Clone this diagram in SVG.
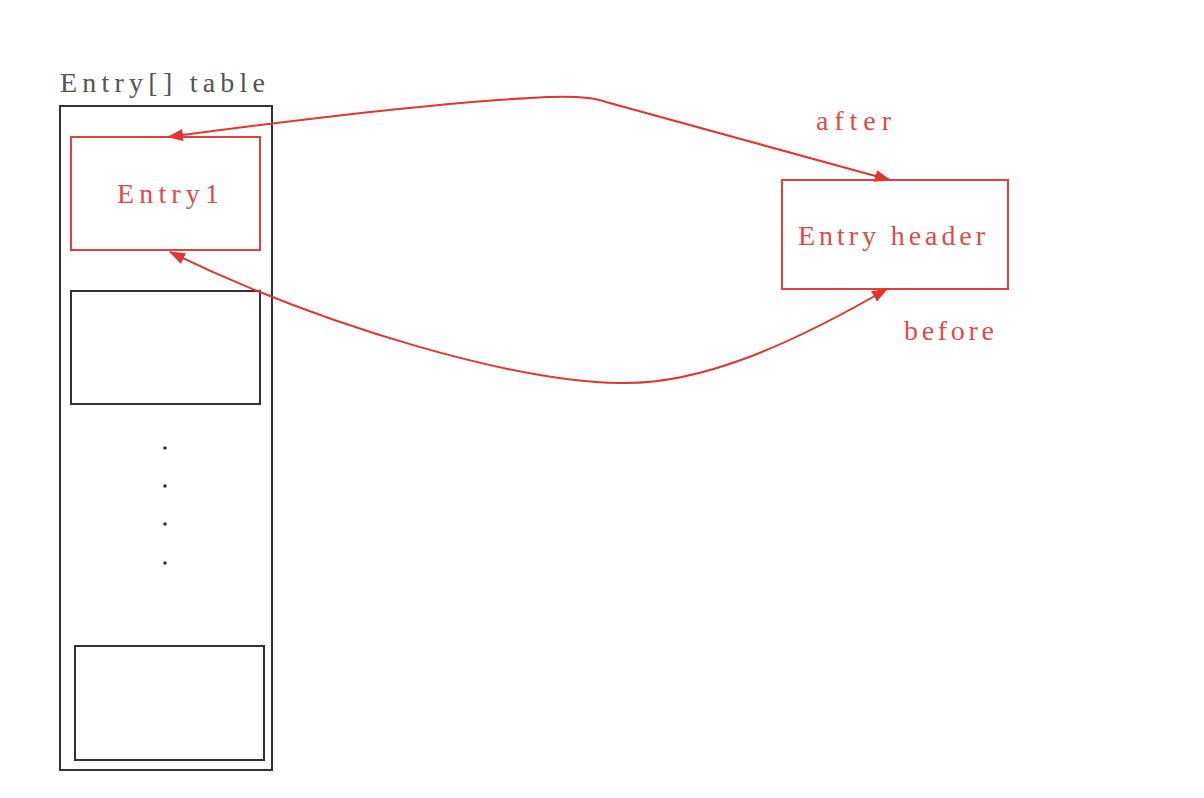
<svg xmlns="http://www.w3.org/2000/svg" width="1204" height="798" viewBox="0 0 1204 798">
<style>
  .lbl { font-family: "Liberation Serif", "DejaVu Serif", serif; font-size: 28px; }
  .red { fill: #dc4b4b; }
  .gray { fill: #555555; }
  .rbox { fill: none; stroke: #e2403c; stroke-width: 2; }
  .kbox { fill: none; stroke: #333333; stroke-width: 2; }
  .conn { fill: none; stroke: #e2352f; stroke-width: 2; }
  .dot { fill: #333333; }
</style>
<defs>
  <marker id="arr" viewBox="0 0 16 12" refX="15" refY="6" markerWidth="16" markerHeight="12" markerUnits="userSpaceOnUse" orient="auto">
    <path d="M0,0 L16,6 L0,12 Z" fill="#e2352f"/>
  </marker>
  <marker id="arrStart" viewBox="0 0 16 12" refX="15" refY="6" markerWidth="16" markerHeight="12" markerUnits="userSpaceOnUse" orient="auto-start-reverse">
    <path d="M0,0 L16,6 L0,12 Z" fill="#e2352f"/>
  </marker>
</defs>
<rect width="1204" height="798" fill="#ffffff"/>

<g id="table">
  <text class="lbl gray" x="60" y="92" textLength="205" lengthAdjust="spacing">Entry[] table</text>
  <rect class="kbox" x="60" y="106" width="212" height="664" stroke="#555555"/>
</g>

<g id="entry1">
  <rect class="rbox" x="71" y="137" width="189" height="113"/>
  <text class="lbl red" x="117" y="203" textLength="102" lengthAdjust="spacing">Entry1</text>
</g>

<g id="slot2">
  <rect class="kbox" x="71" y="291" width="189" height="113"/>
</g>

<g id="ellipsis">
  <circle class="dot" cx="165" cy="448" r="1.8"/>
  <circle class="dot" cx="165" cy="486" r="1.8"/>
  <circle class="dot" cx="165" cy="524" r="1.8"/>
  <circle class="dot" cx="165" cy="563" r="1.8"/>
</g>

<g id="slotN">
  <rect class="kbox" x="75" y="646" width="189" height="114"/>
</g>

<g id="header">
  <rect class="rbox" x="782" y="180" width="226" height="109"/>
  <text class="lbl red" x="798" y="245" textLength="187" lengthAdjust="spacing">Entry header</text>
</g>

<g id="connectors">
  <path class="conn" d="M 606 102 L 890 180" marker-end="url(#arr)"/>
  <path class="conn" d="M 606 102 C 590 96, 560 96, 530 98 C 420 104, 280 122, 168 137" marker-end="url(#arr)"/>
  <path class="conn" d="M 887 289 C 790 345, 700 385, 620 383 C 520 382, 330 330, 170 252" marker-start="url(#arrStart)" marker-end="url(#arr)"/>
  <text class="lbl red" x="816" y="130" textLength="75" lengthAdjust="spacing">after</text>
  <text class="lbl red" x="904" y="340" textLength="90" lengthAdjust="spacing">before</text>
</g>
</svg>
